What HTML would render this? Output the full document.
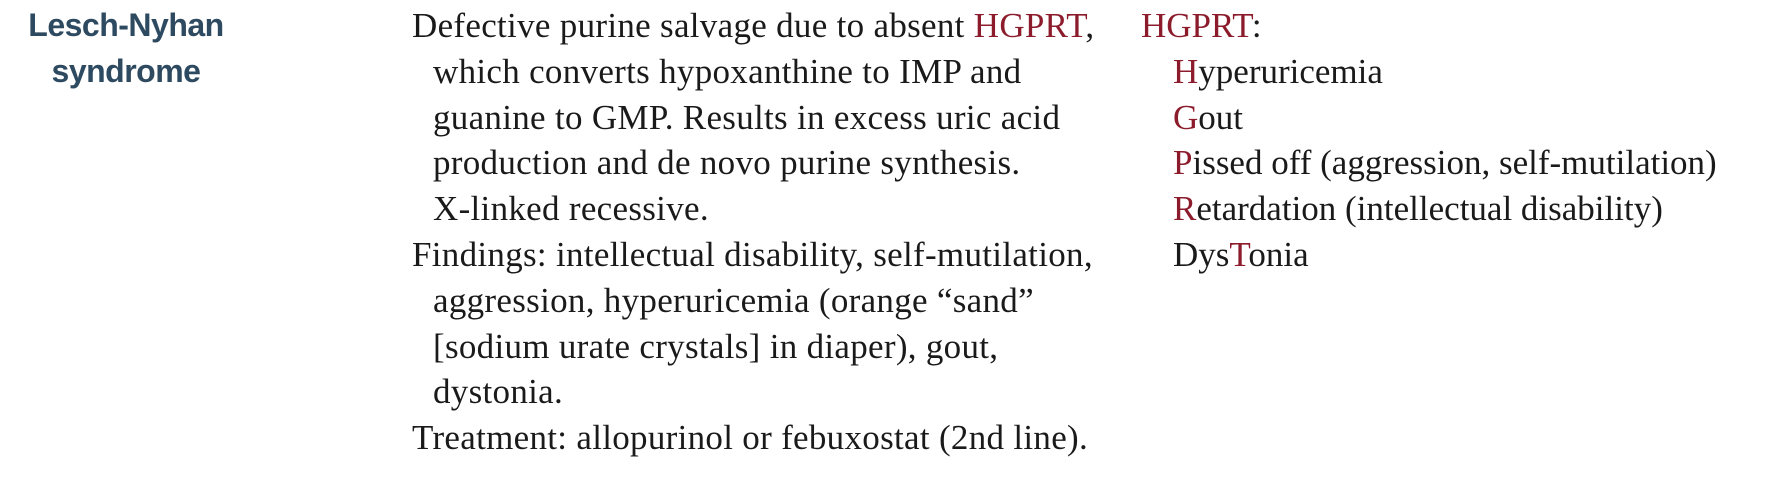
<!DOCTYPE html>
<html><head><meta charset="utf-8"><style>
html,body{margin:0;padding:0;background:#fff;width:1776px;height:480px;overflow:hidden}
.lbl{position:absolute;left:0;width:252px;text-align:center;font-family:"Liberation Sans",sans-serif;font-weight:bold;font-size:32px;color:#2e4a60;line-height:45.8px;top:3px;letter-spacing:-0.5px}
.col{position:absolute;top:3px;font-family:"Liberation Serif",serif;font-size:35px;line-height:45.8px;color:#1a1a1a;white-space:nowrap}
.col div{height:45.8px}
.ind{padding-left:21px}
.r{color:#8c1c2c}
</style></head><body>
<div class="lbl">Lesch-Nyhan<br>syndrome</div>
<div class="col" style="left:412px;letter-spacing:0.3px">
<div>Defective purine salvage due to absent <span class="r">HGPRT</span>,</div>
<div class="ind">which converts hypoxanthine to IMP and</div>
<div class="ind">guanine to GMP. Results in excess uric acid</div>
<div class="ind">production and de novo purine synthesis.</div>
<div class="ind">X-linked recessive.</div>
<div>Findings: intellectual disability, self-mutilation,</div>
<div class="ind">aggression, hyperuricemia (orange “sand”</div>
<div class="ind">[sodium urate crystals] in diaper), gout,</div>
<div class="ind">dystonia.</div>
<div>Treatment: allopurinol or febuxostat (2nd line).</div>
</div>
<div class="col" style="left:1141px">
<div><span class="r">HGPRT</span>:</div>
<div class="ind" style="padding-left:32px"><span class="r">H</span>yperuricemia</div>
<div class="ind" style="padding-left:32px"><span class="r">G</span>out</div>
<div class="ind" style="padding-left:32px"><span class="r">P</span>issed off (aggression, self-mutilation)</div>
<div class="ind" style="padding-left:32px"><span class="r">R</span>etardation (intellectual disability)</div>
<div class="ind" style="padding-left:32px">Dys<span class="r">T</span>onia</div>
</div>
</body></html>
